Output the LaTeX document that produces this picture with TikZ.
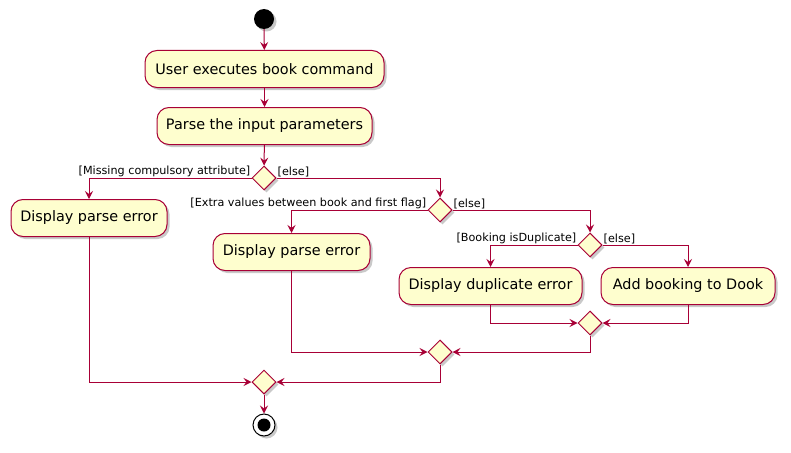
\documentclass[tikz,border=0pt]{standalone}
\usepackage{fontspec}
\setmainfont{DejaVu Sans}
\usetikzlibrary{shapes.geometric,arrows.meta,shadows}
\definecolor{pfill}{HTML}{FEFECE}
\definecolor{pline}{HTML}{A80036}
\begin{document}
\begin{tikzpicture}[x=1pt,y=-1pt,
  shd/.style={drop shadow={opacity=0.35,shadow xshift=2.5pt,shadow yshift=-2.5pt,fill=black!60}},
  act/.style={draw=pline, fill=pfill, rounded corners=12pt, line width=1pt, minimum height=37pt, inner sep=0pt, font=\fontsize{14.4}{17}\selectfont, shd},
  dia/.style={diamond, draw=pline, fill=pfill, line width=1pt, minimum width=24pt, minimum height=24pt, inner sep=0pt, aspect=1, shd},
  arr/.style={draw=pline, line width=1pt, -{Stealth[length=8pt,width=8pt,inset=3pt]}},
  lbl/.style={font=\fontsize{11.2}{13}\selectfont, inner sep=1pt}
]
\useasboundingbox[fill=white] (0,0) rectangle (791,452);
% nodes
\node[circle, fill=black, minimum size=20pt, inner sep=0pt, shd] (start) at (264,19) {};
\node[act, minimum width=239pt] (a1) at (264.5,69) {User executes book command};
\node[act, minimum width=215pt] (a2) at (264.5,126) {Parse the input parameters};
\node[dia] (d1) at (264,178) {};
\node[act, minimum width=156pt] (e1) at (89,218) {Display parse error};
\node[dia] (d2) at (440,210) {};
\node[act, minimum width=157pt] (e2) at (291.5,252) {Display parse error};
\node[dia] (d3) at (590,245) {};
\node[act, minimum width=183pt] (dup) at (490.5,286) {Display duplicate error};
\node[act, minimum width=174pt] (add) at (688,286) {Add booking to Dook};
\node[dia] (m1) at (590,323) {};
\node[dia] (m2) at (440,352) {};
\node[dia] (m3) at (264,382) {};
\node[circle, draw=black, line width=1pt, fill=white, minimum size=22pt, inner sep=0pt, shd] (end) at (264,425) {};
\fill[black] (end.center) circle (6.5pt);
% connectors
\draw[arr] (start) -- (a1);
\draw[arr] (a1) -- (a2);
\draw[arr] (a2) -- (d1);
\draw[arr] (d1.west) -| (e1.north);
\node[lbl, anchor=south east] at (d1.west) {[Missing compulsory attribute]};
\draw[arr] (d1.east) -| (d2.north);
\node[lbl, anchor=south west] at (d1.east) {[else]};
\draw[arr] (d2.west) -| (e2.north);
\node[lbl, anchor=south east] at (d2.west) {[Extra values between book and first flag]};
\draw[arr] (d2.east) -| (d3.north);
\node[lbl, anchor=south west] at (d2.east) {[else]};
\draw[arr] (d3.west) -| (dup.north);
\node[lbl, anchor=south east] at (d3.west) {[Booking isDuplicate]};
\draw[arr] (d3.east) -| (add.north);
\node[lbl, anchor=south west] at (d3.east) {[else]};
\draw[arr] (dup.south) |- (m1.west);
\draw[arr] (add.south) |- (m1.east);
\draw[arr] (m1.south) |- (m2.east);
\draw[arr] (e2.south) |- (m2.west);
\draw[arr] (m2.south) |- (m3.east);
\draw[arr] (e1.south) |- (m3.west);
\draw[arr] (m3) -- (end);
\end{tikzpicture}
\end{document}
